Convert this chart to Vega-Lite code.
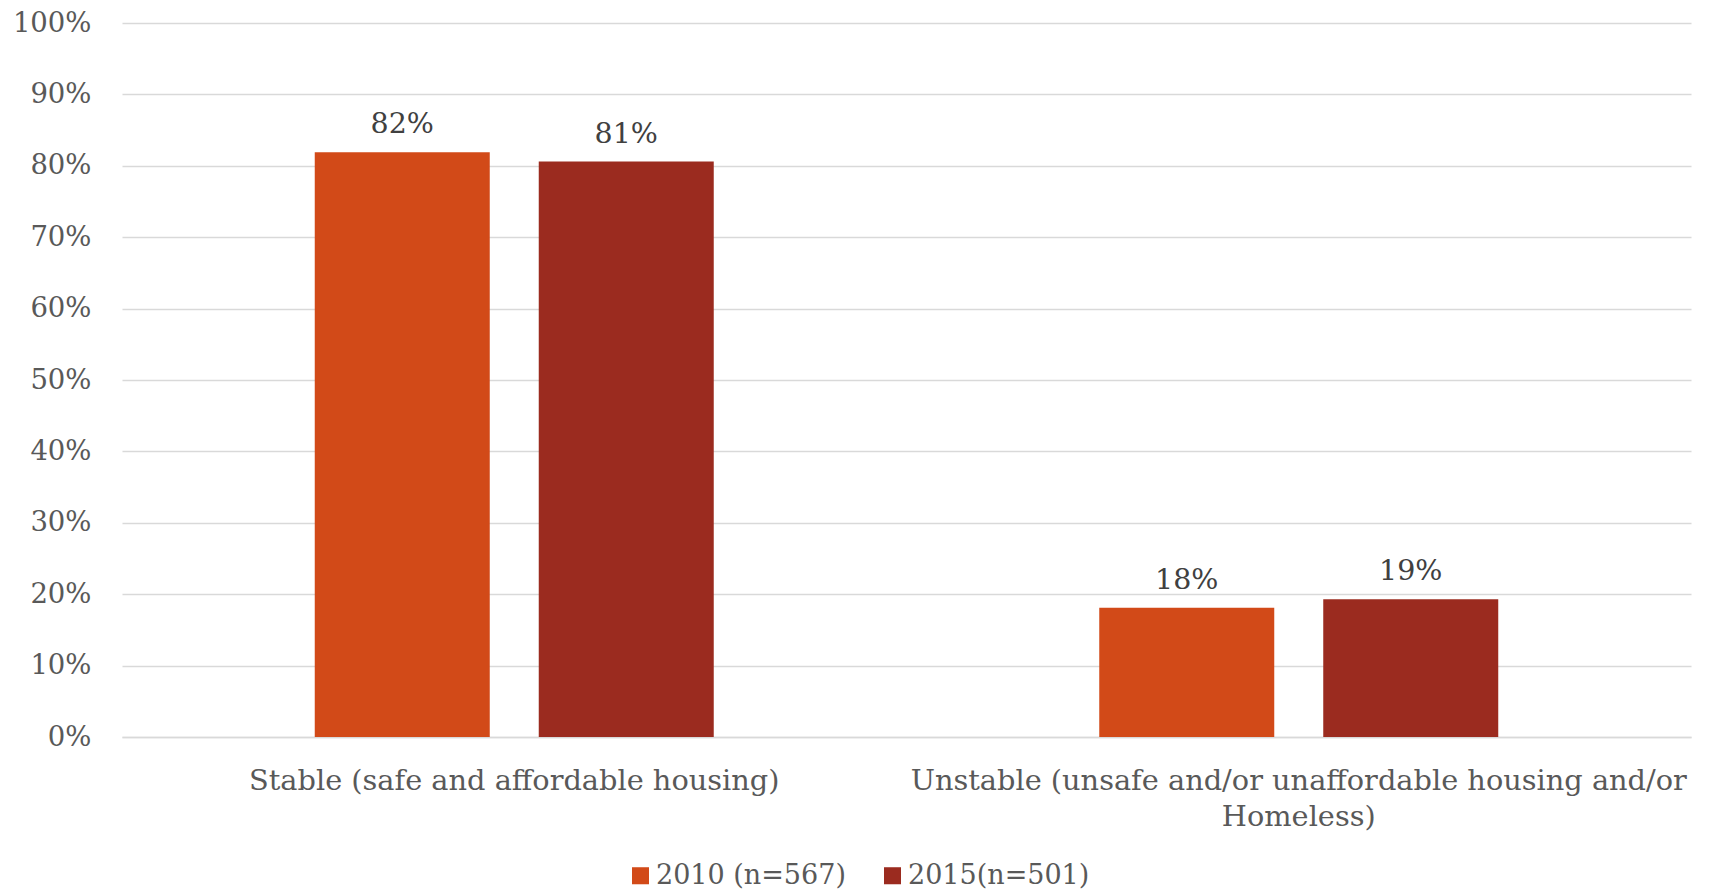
{
  "$schema": "https://vega.github.io/schema/vega-lite/v6.json",
  "autosize": {"type": "none"},
  "width": 1569,
  "height": 714,
  "padding": {"left": 122, "top": 23, "right": 22, "bottom": 155},
  "background": "white",
  "data": {
    "values": [
      {"category": "Stable (safe and affordable housing)", "series": "2010 (n=567)", "value": 0.819},
      {"category": "Stable (safe and affordable housing)", "series": "2015(n=501)", "value": 0.806},
      {"category": "Unstable (unsafe and/or unaffordable housing and/or Homeless)", "series": "2010 (n=567)", "value": 0.181},
      {"category": "Unstable (unsafe and/or unaffordable housing and/or Homeless)", "series": "2015(n=501)", "value": 0.193}
    ]
  },
  "config": {
    "view": {"stroke": null},
    "font": "DejaVu Serif"
  },
  "encoding": {
    "x": {
      "field": "category",
      "type": "nominal",
      "sort": null,
      "title": null,
      "scale": {"paddingInner": 0.4914, "paddingOuter": 0.2457},
      "axis": {
        "labelAngle": 0,
        "labelFont": "DejaVu Serif",
        "labelFontSize": 28.8,
        "labelColor": "#595959",
        "labelPadding": 43,
        "labelBaseline": "middle",
        "labelLineHeight": 36,
        "ticks": false,
        "domain": true,
        "domainColor": "#D9D9D9",
        "domainWidth": 1.5,
        "labelLimit": 1000,
        "labelExpr": "datum.value == 'Unstable (unsafe and/or unaffordable housing and/or Homeless)' ? ['Unstable (unsafe and/or unaffordable housing and/or', 'Homeless)'] : datum.value"
      }
    },
    "xOffset": {
      "field": "series",
      "type": "nominal",
      "sort": null,
      "scale": {"paddingInner": 0.21875, "paddingOuter": 0}
    },
    "y": {
      "field": "value",
      "type": "quantitative",
      "title": null,
      "scale": {"domain": [0, 1]},
      "axis": {
        "values": [0, 0.1, 0.2, 0.3, 0.4, 0.5, 0.6, 0.7, 0.8, 0.9, 1],
        "format": ".0%",
        "labelFont": "DejaVu Serif",
        "labelFontSize": 27.5,
        "labelColor": "#595959",
        "labelPadding": 31,
        "ticks": false,
        "domain": false,
        "gridColor": "#D9D9D9",
        "gridWidth": 1.5
      }
    }
  },
  "layer": [
    {
      "mark": {"type": "bar"},
      "encoding": {
        "color": {
          "field": "series",
          "type": "nominal",
          "sort": null,
          "title": null,
          "scale": {"domain": ["2010 (n=567)", "2015(n=501)"], "range": ["#D24A18", "#9B2B1F"]},
          "legend": {
            "orient": "none",
            "legendX": 505,
            "legendY": 839,
            "direction": "horizontal",
            "symbolType": "square",
            "symbolSize": 290,
            "symbolStrokeWidth": 0,
            "labelFont": "DejaVu Serif",
            "labelFontSize": 27,
            "labelColor": "#595959",
            "labelOffset": 2,
            "columnPadding": 33,
            "labelLimit": 400
          }
        }
      }
    },
    {
      "mark": {"type": "text", "baseline": "middle", "dy": -28, "font": "DejaVu Serif", "fontSize": 28.5, "color": "#404040"},
      "encoding": {
        "text": {"field": "value", "type": "quantitative", "format": ".0%"}
      }
    }
  ]
}
